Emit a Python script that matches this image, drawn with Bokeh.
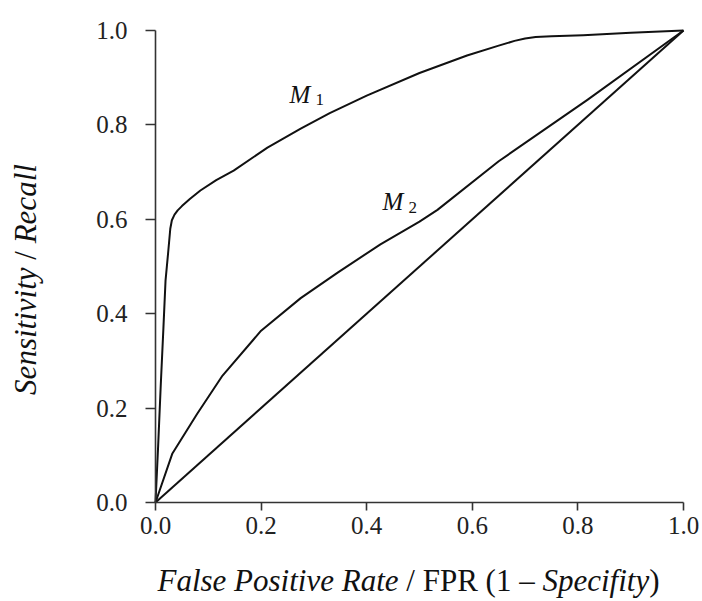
import math
from bokeh.plotting import figure
from bokeh.models import Range1d, FixedTicker, Label, CustomJSTickFormatter
from bokeh.embed import file_html
from bokeh.resources import INLINE

# ---- data ----
fpr_m1 = [0.0, 0.005, 0.010, 0.015, 0.019, 0.024, 0.028, 0.031, 0.036, 0.042, 0.050,
          0.065, 0.085, 0.115, 0.148, 0.212, 0.275, 0.330, 0.400, 0.500, 0.590,
          0.650, 0.680, 0.700, 0.720, 0.750, 0.810, 0.900, 1.0]
tpr_m1 = [0.0, 0.120, 0.250, 0.370, 0.470, 0.530, 0.580, 0.598, 0.610, 0.619, 0.628,
          0.643, 0.661, 0.683, 0.703, 0.752, 0.792, 0.825, 0.862, 0.910, 0.947,
          0.968, 0.978, 0.983, 0.986, 0.988, 0.990, 0.995, 1.0]

fpr_m2 = [0.0, 0.032, 0.079, 0.127, 0.200, 0.275, 0.345, 0.426, 0.500, 0.534, 0.650, 0.818, 1.0]
tpr_m2 = [0.0, 0.104, 0.188, 0.269, 0.364, 0.433, 0.487, 0.547, 0.595, 0.620, 0.723, 0.853, 1.0]

fpr_diag = [0.0, 1.0]
tpr_diag = [0.0, 1.0]

x_ticks = [0.0, 0.2, 0.4, 0.6, 0.8, 1.0]
y_ticks = [0.0, 0.2, 0.4, 0.6, 0.8, 1.0]

FONT = "Liberation Serif"
INK = "#111111"
NB = "\u00a0"  # non-breaking space keeps edge spaces in SVG text

# page-pixel geometry of the reference plot area: 0..1 spans x 155..683, y 502..30
W, H = 702, 601
def dx(px):
    return (px - 155) / 528.0

def dy(py):
    return (502 - py) / 472.0

p = figure(frame_width=W, frame_height=H,
           x_range=Range1d(dx(0), dx(W)), y_range=Range1d(dy(H), dy(0)),
           min_border=0, min_border_left=0, min_border_right=0,
           min_border_top=0, min_border_bottom=0,
           output_backend="svg", toolbar_location=None)
p.outline_line_color = None
p.grid.visible = False
p.background_fill_color = "white"
p.border_fill_color = "white"

for ln_x, ln_y in ((fpr_m1, tpr_m1), (fpr_m2, tpr_m2), (fpr_diag, tpr_diag)):
    p.line(ln_x, ln_y, line_color=INK, line_width=2.0, line_join="round")

fmt = CustomJSTickFormatter(code="return tick.toFixed(1);")
p.xaxis.ticker = FixedTicker(ticks=x_ticks)
p.yaxis.ticker = FixedTicker(ticks=y_ticks)
for ax in (p.xaxis[0], p.yaxis[0]):
    ax.formatter = fmt
    ax.fixed_location = 0
    ax.bounds = (0, 1)
    ax.axis_line_color = "#333333"
    ax.axis_line_width = 1.6
    ax.major_tick_line_color = "#333333"
    ax.major_tick_line_width = 1.6
    ax.minor_tick_line_color = None
    ax.major_tick_in = 0
    ax.major_label_text_font = FONT
    ax.major_label_text_font_size = "25px"
    ax.major_label_text_color = "#222222"
p.xaxis.major_tick_out = 8
p.xaxis.major_label_standoff = 6
p.yaxis.major_tick_out = 10
p.yaxis.major_label_standoff = 18

def add_label(text, px, py, size, style, angle=0.0):
    p.add_layout(Label(x=dx(px), y=dy(py), text=text, text_font=FONT,
                       text_font_size=f"{size}px", text_font_style=style,
                       text_color=INK, text_align="left", text_baseline="alphabetic",
                       angle=angle))

# x-axis title with mixed italic / upright parts (widths in em, Times metrics)
TS = 31
x_parts = [("False Positive Rate", "italic", 7.777),
           (NB + "/" + NB + "FPR (1 \u2013" + NB, "normal", 4.640),
           ("Specifity", "italic", 3.444),
           (")", "normal", 0.333)]
total = sum(w for _, _, w in x_parts) * TS
cur = 408 - total / 2
for t, s, w in x_parts:
    add_label(t, cur, 580, TS, s)
    cur += w * TS

# y-axis title (rotated, reads bottom to top)
y_parts = [("Sensitivity", "italic", 4.111),
           (NB + "/" + NB, "normal", 0.778),
           ("Recall", "italic", 2.555)]
total = sum(w for _, _, w in y_parts) * TS
cur = 279 + total / 2
for t, s, w in y_parts:
    add_label(t, 25, cur, TS, s, angle=math.pi / 2)
    cur -= w * TS

# curve labels
add_label("M", 289, 94, 25, "italic")
add_label("1", 315, 99, 17, "normal")
add_label("M", 382, 201, 25, "italic")
add_label("2", 408, 207, 17, "normal")

open("out.html", "w").write(file_html(p, INLINE))
